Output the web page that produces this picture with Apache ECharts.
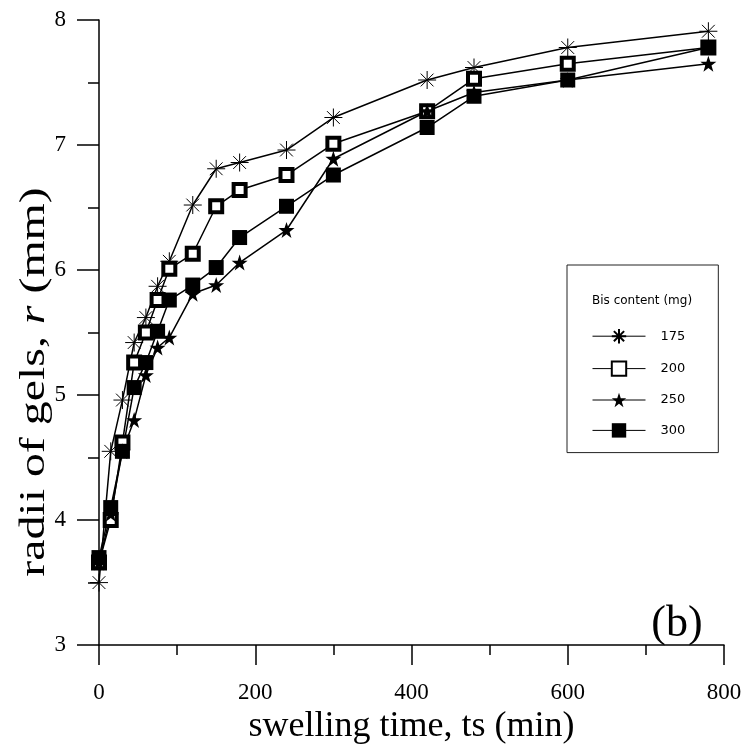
<!DOCTYPE html>
<html>
<head>
<meta charset="utf-8">
<script src="https://cdn.jsdelivr.net/npm/echarts@6/dist/echarts.min.js"></script>
<style>html,body{margin:0;padding:0;background:#fff}#c{width:748px;height:750px}</style>
</head>
<body>
<div id="c"></div>
<script>
var times = [0, 15, 30, 45, 60, 75, 90, 120, 150, 180, 240, 300, 420, 480, 600, 780];
var r175 = [3.50, 4.55, 4.96, 5.42, 5.62, 5.87, 6.07, 6.52, 6.81, 6.86, 6.96, 7.22, 7.52, 7.62, 7.78, 7.91];
var r200 = [3.66, 4.00, 4.62, 5.26, 5.50, 5.76, 6.01, 6.13, 6.51, 6.64, 6.76, 7.01, 7.27, 7.53, 7.65, 7.78];
var r250 = [3.66, 4.05, 4.55, 4.80, 5.16, 5.38, 5.46, 5.81, 5.88, 6.06, 6.32, 6.89, 7.27, 7.42, 7.52, 7.65];
var r300 = [3.70, 4.10, 4.55, 5.06, 5.26, 5.51, 5.76, 5.88, 6.02, 6.26, 6.51, 6.76, 7.14, 7.39, 7.52, 7.78];
var seriesNames = ['175', '200', '250', '300'];
var xTicks = [0, 200, 400, 600, 800];
var yTicks = [3, 4, 5, 6, 7, 8];

function pairs(ys) { return times.map(function (t, i) { return [t, ys[i]]; }); }

var asterisk = 'path://M10,0L10,20M0,10L20,10M2.9,2.9L17.1,17.1M2.9,17.1L17.1,2.9';
var star = 'path://M10,0L12.35,7.24L19.51,7.24L13.71,11.71L15.88,19.02L10,14.5L4.12,19.02L6.29,11.71L0.49,7.24L7.65,7.24Z';

var serif = 'Liberation Serif';
var chart = echarts.init(document.getElementById('c'), null, {renderer: 'canvas'});

function mk(name, ys, symbol, size, itemStyle) {
  return {
    name: name, type: 'line', data: pairs(ys), symbol: symbol, symbolSize: size,
    showAllSymbol: true, animation: false,
    lineStyle: {color: '#000', width: 1.5},
    itemStyle: itemStyle, emphasis: {disabled: true}
  };
}

chart.setOption({
  animation: false,
  grid: {left: 99, right: 24, top: 20, bottom: 101, containLabel: false},
  xAxis: {
    type: 'value', min: 0, max: 800, interval: 200,
    name: 'swelling time, ts (min)', nameLocation: 'middle', nameGap: 62,
    nameTextStyle: {fontFamily: serif, fontSize: 36, color: '#000'},
    axisLine: {onZero: false, lineStyle: {color: '#000', width: 1.5}},
    axisTick: {show: true, inside: false, length: 20, lineStyle: {color: '#000', width: 1.5}},
    minorTick: {show: true, splitNumber: 2, length: 10, lineStyle: {color: '#000', width: 1.5}},
    splitLine: {show: false},
    axisLabel: {margin: 36, fontFamily: serif, fontSize: 23, color: '#000',
      formatter: function (v) { return xTicks.indexOf(v) >= 0 ? String(v) : ''; }}
  },
  yAxis: {
    type: 'value', min: 3, max: 8, interval: 1,
    axisLine: {onZero: false, lineStyle: {color: '#000', width: 1.5}},
    axisTick: {show: true, inside: false, length: 22, lineStyle: {color: '#000', width: 1.5}},
    minorTick: {show: true, splitNumber: 2, length: 11, lineStyle: {color: '#000', width: 1.5}},
    splitLine: {show: false},
    axisLabel: {margin: 33, fontFamily: serif, fontSize: 23, color: '#000',
      formatter: function (v) { return yTicks.indexOf(v) >= 0 ? String(v) : ''; }}
  },
  legend: {
    orient: 'vertical', left: 567, top: 265,
    padding: [63, 33, 15, 25], itemGap: 16, itemWidth: 53, itemHeight: 18,
    borderColor: '#222', borderWidth: 1, borderRadius: 0,
    lineStyle: {width: 1},
    textStyle: {fontFamily: 'DejaVu Sans', fontSize: 13, color: '#000', padding: [0, 0, 0, 10]},
    data: seriesNames.map(function (n) { return {name: n}; })
  },
  graphic: [{
    type: 'text', left: 592, top: 295,
    style: {text: 'Bis content (mg)', fontFamily: 'DejaVu Sans', fontSize: 12, fill: '#000'}
  }, {
    type: 'text', x: 677, y: 624,
    style: {text: '(b)', fontFamily: serif, fontSize: 44, fill: '#000', align: 'center', verticalAlign: 'middle'}
  }, {
    type: 'text', x: 35, y: 382, rotation: Math.PI / 2, scaleX: 1.33, scaleY: 1,
    style: {
      text: 'radii of gels, {i|r} (mm)', fontFamily: serif, fontSize: 36, fill: '#000',
      align: 'center', verticalAlign: 'middle',
      rich: {i: {fontFamily: serif, fontSize: 36, fontStyle: 'italic', fill: '#000'}}
    }
  }],
  series: [
    mk(seriesNames[0], r175, asterisk, 18, {color: '#000', borderColor: '#000', borderWidth: 1}),
    mk(seriesNames[1], r200, 'rect', 12, {color: '#fff', borderColor: '#000', borderWidth: 4}),
    mk(seriesNames[2], r250, star, 16, {color: '#000', borderColor: '#000', borderWidth: 0}),
    mk(seriesNames[3], r300, 'rect', 15, {color: '#000', borderColor: '#000', borderWidth: 0})
  ]
});
</script>
</body>
</html>
